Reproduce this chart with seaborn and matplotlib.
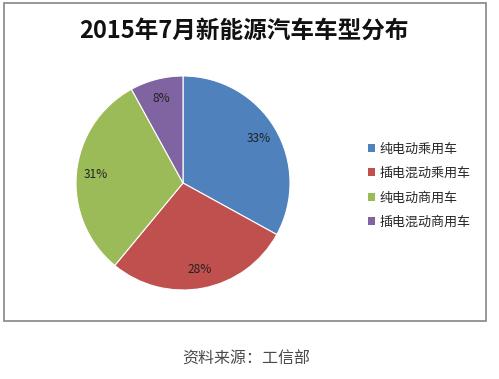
import matplotlib

matplotlib.use("Agg")
import matplotlib.pyplot as plt  # noqa: E402
import seaborn as sns  # noqa: E402
from matplotlib.patches import Patch, Rectangle  # noqa: E402

title = "2015年7月新能源汽车车型分布"
categories = ["纯电动乘用车", "插电混动乘用车", "纯电动商用车", "插电混动商用车"]
shares = [33, 28, 31, 8]
colors = ["#4F81BD", "#C0504D", "#9BBB59", "#8064A2"]
source = "资料来源：工信部"

sns.set_theme(style="white")
plt.rcParams["font.family"] = ["Noto Sans CJK SC", "DejaVu Sans"]

W, H = 499, 379
fig = plt.figure(figsize=(W / 100, H / 100), dpi=100)

# chart border
fig.patches.append(
    Rectangle((4 / W, (H - 321) / H), 482 / W, 318 / H, transform=fig.transFigure,
              fill=False, edgecolor="#858585", linewidth=1.2)
)

cx, cy, r = 183, 183, 107
ax = fig.add_axes([(cx - r) / W, (H - cy - r) / H, 2 * r / W, 2 * r / H])
wedges, _, autotexts = ax.pie(
    shares,
    colors=colors,
    startangle=90,
    counterclock=False,
    autopct="%d%%",
    pctdistance=0.82,
    wedgeprops=dict(edgecolor="white", linewidth=0.8),
    textprops=dict(fontsize=8.6, color="#222222"),
)
ax.set_xlim(-1, 1)
ax.set_ylim(-1, 1)
ax.set_aspect("equal")
ax.axis("off")

fig.text(244 / W, 1 - 31 / H, title, ha="center", va="center",
         fontsize=17, fontweight="bold", color="#111111")

handles = [Patch(facecolor=c, edgecolor="none") for c in colors]
fig.legend(
    handles, categories, loc="upper left", bbox_to_anchor=(361 / W, 1 - 136 / H),
    frameon=False, fontsize=9.4, handlelength=0.55, handleheight=0.55,
    handletextpad=0.4, labelspacing=0.88, borderpad=0,
)

fig.text(246 / W, 1 - 359 / H, source, ha="center", va="center",
         fontsize=11.5, color="#4a4a4a")

fig.savefig("out.png", dpi=100)
